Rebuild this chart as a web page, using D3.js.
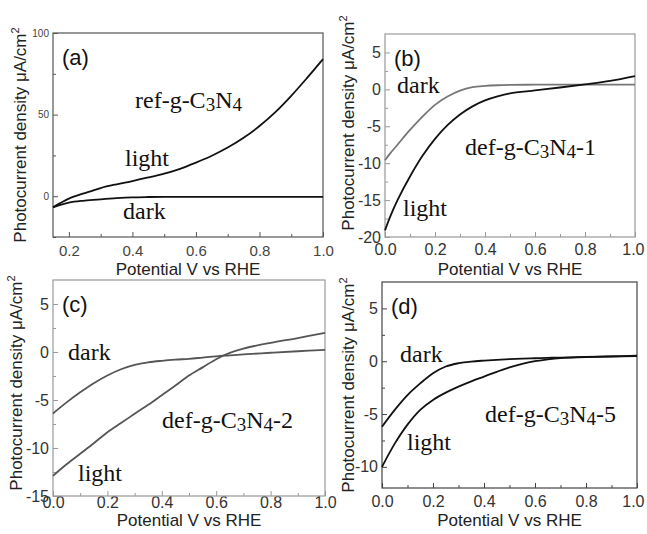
<!DOCTYPE html>
<html>
<head>
<meta charset="utf-8">
<script src="https://cdn.jsdelivr.net/npm/d3@7"></script>
<style>
  body { margin: 0; background: #fff; }
  svg { display: block; }
</style>
</head>
<body>
<svg width="647" height="534"></svg>
<script>
// values: potential (V vs RHE) and current density (uA/cm2)

// (a) ref-g-C3N4
var potentialA = [0.15, 0.2, 0.25, 0.3, 0.35, 0.4, 0.45, 0.5, 0.55, 0.6, 0.65, 0.7, 0.75, 0.8, 0.85, 0.9, 0.95, 1.0];
var darkA = [-6.8, -3.9, -2.7, -1.9, -1.2, -0.7, -0.5, -0.4, -0.4, -0.4, -0.4, -0.4, -0.4, -0.4, -0.4, -0.4, -0.4, -0.4];
var lightA = [-6.8, -1.5, 1.9, 5, 7.3, 9.3, 11.5, 13.9, 16.8, 20.6, 24.8, 29.8, 35.8, 43, 51.5, 61.5, 72.5, 84];

// (b) def-g-C3N4-1
var potentialB = [0, 0.02, 0.05, 0.1, 0.15, 0.2, 0.25, 0.3, 0.35, 0.4, 0.45, 0.5, 0.6, 0.7, 0.8, 0.9, 1.0];
var darkB = [-9.6, -8.7, -7.5, -5.5, -3.7, -2.1, -0.97, -0.16, 0.3, 0.47, 0.56, 0.6, 0.63, 0.64, 0.65, 0.65, 0.65];
var lightB = [-19.1, -17.3, -15, -11.8, -9.0, -6.7, -4.85, -3.4, -2.3, -1.5, -0.95, -0.55, -0.15, 0.25, 0.68, 1.15, 1.8];

// (c) def-g-C3N4-2
var potentialC = [0, 0.05, 0.1, 0.15, 0.2, 0.25, 0.3, 0.35, 0.4, 0.45, 0.5, 0.55, 0.6, 0.65, 0.7, 0.8, 0.9, 1.0];
var darkC = [-6.4, -5.25, -4.2, -3.25, -2.45, -1.8, -1.35, -1.08, -0.92, -0.8, -0.71, -0.58, -0.45, -0.35, -0.25, -0.08, 0.08, 0.23];
var lightC = [-12.9, -11.7, -10.6, -9.5, -8.35, -7.4, -6.44, -5.5, -4.5, -3.5, -2.45, -1.6, -0.75, -0.1, 0.35, 0.95, 1.45, 2.0];

// (d) def-g-C3N4-5
var potentialD = [0, 0.05, 0.1, 0.15, 0.2, 0.25, 0.3, 0.35, 0.4, 0.45, 0.5, 0.55, 0.6, 0.65, 0.7, 0.8, 0.9, 1.0];
var darkD = [-6.2, -4.6, -3.2, -2.1, -1.14, -0.5, -0.19, -0.03, 0.06, 0.13, 0.19, 0.24, 0.28, 0.32, 0.35, 0.41, 0.45, 0.48];
var lightD = [-10, -7.8, -6.0, -4.6, -3.66, -2.97, -2.4, -1.9, -1.45, -1.0, -0.58, -0.25, 0.0, 0.18, 0.3, 0.38, 0.46, 0.54];

// tick values
var xTicksA = [0.2, 0.4, 0.6, 0.8, 1.0];
var xMinorA = [0.3, 0.5, 0.7, 0.9];
var xTicks = [0, 0.2, 0.4, 0.6, 0.8, 1.0];
var xMinor = [0.1, 0.3, 0.5, 0.7, 0.9];
var yTicksA = [0, 50, 100];
var yMinorA = [-25, 25, 75];
var yTicksB = [-20, -15, -10, -5, 0, 5];
var yTicksC = [-15, -10, -5, 0, 5];
var yTicksD = [-10, -5, 0, 5];

var xTitle = "Potential V vs RHE";
var yTitle = "Photocurrent density \u03bcA/cm";

var svg = d3.select("svg");
var svgWidth = +svg.attr("width");

// one entry per panel: frame box, domains and styling
var panels = [
  { tag: "(a)", box: [53, 33, 323, 237], xDomain: [0.15, 1], yDomain: [-25, 100],
    potential: potentialA, dark: darkA, light: lightA,
    xTicks: xTicksA, xMinor: xMinorA, yTicks: yTicksA, yMinor: yMinorA,
    frame: "#555", darkColor: "#111", lightColor: "#111", tickColor: "#444",
    xFont: 15, yFont: 10, xLabelOff: 19, xTitleY: 275, yTitleX: 26, yTitleY: 135,
    notes: [{ text: "ref-g-C", sub1: "3", mid: "N", sub2: "4", tail: "", x: 135, y: 108 },
            { text: "light", x: 125, y: 166 },
            { text: "dark", x: 123, y: 219 }] },
  { tag: "(b)", box: [385, 34, 635, 237], xDomain: [0, 1], yDomain: [-20, 7.5],
    potential: potentialB, dark: darkB, light: lightB,
    xTicks: xTicks, xMinor: xMinor, yTicks: yTicksB, yMinor: [-17.5, -12.5, -7.5, -2.5, 2.5],
    frame: "#999", darkColor: "#777", lightColor: "#111", tickColor: "#333",
    xFont: 16, yFont: 16, xLabelOff: 18, xTitleY: 275, yTitleX: 354, yTitleY: 123,
    notes: [{ text: "dark", x: 397, y: 93 },
            { text: "def-g-C", sub1: "3", mid: "N", sub2: "4", tail: "-1", x: 465, y: 155 },
            { text: "light", x: 403, y: 216 }] },
  { tag: "(c)", box: [53, 280, 325, 496], xDomain: [0, 1], yDomain: [-15, 7.5],
    potential: potentialC, dark: darkC, light: lightC,
    xTicks: xTicks, xMinor: xMinor, yTicks: yTicksC, yMinor: [-12.5, -7.5, -2.5, 2.5],
    frame: "#999", darkColor: "#555", lightColor: "#555", tickColor: "#333",
    xFont: 16, yFont: 16, xLabelOff: 12, xTitleY: 526, yTitleX: 22, yTitleY: 383,
    notes: [{ text: "dark", x: 68, y: 360 },
            { text: "def-g-C", sub1: "3", mid: "N", sub2: "4", tail: "-2", x: 162, y: 428 },
            { text: "light", x: 78, y: 481 }] },
  { tag: "(d)", box: [382, 282, 637, 488], xDomain: [0, 1], yDomain: [-12, 7.5],
    potential: potentialD, dark: darkD, light: lightD,
    xTicks: xTicks, xMinor: xMinor, yTicks: yTicksD, yMinor: [-7.5, -2.5, 2.5],
    frame: "#444", darkColor: "#111", lightColor: "#111", tickColor: "#333",
    xFont: 16, yFont: 16, xLabelOff: 19, xTitleY: 526, yTitleX: 354, yTitleY: 385,
    notes: [{ text: "dark", x: 400, y: 362 },
            { text: "def-g-C", sub1: "3", mid: "N", sub2: "4", tail: "-5", x: 485, y: 422 },
            { text: "light", x: 407, y: 450 }] }
];

panels.forEach(function(p) {
  var left = p.box[0], top = p.box[1], right = p.box[2], bottom = p.box[3];
  var x = d3.scaleLinear().domain(p.xDomain).range([left, right]);
  var y = d3.scaleLinear().domain(p.yDomain).range([bottom, top]);
  var g = svg.append("g");

  // x axis: major ticks pointing inward, labels below
  var xAxis = g.append("g")
    .attr("transform", "translate(0," + bottom + ")")
    .call(d3.axisBottom(x).tickValues(p.xTicks).tickFormat(d3.format(".1f"))
      .tickSizeInner(-5).tickSizeOuter(0));
  xAxis.select(".domain").remove();
  xAxis.selectAll("line").attr("stroke", p.frame);
  xAxis.selectAll("text")
    .attr("y", p.xLabelOff).attr("dy", 0)
    .attr("font-family", "Arial, 'Liberation Sans', sans-serif")
    .attr("font-size", p.xFont).attr("fill", p.tickColor);
  // keep the last label inside the page
  xAxis.selectAll("text").each(function(d) {
    var w = this.getComputedTextLength();
    var over = x(d) + w / 2 - (svgWidth - 3);
    if (over > 0) d3.select(this).attr("x", -over);
  });

  var xMin = g.append("g")
    .attr("transform", "translate(0," + bottom + ")")
    .call(d3.axisBottom(x).tickValues(p.xMinor).tickFormat("").tickSizeInner(-3).tickSizeOuter(0));
  xMin.select(".domain").remove();
  xMin.selectAll("line").attr("stroke", p.frame);

  // y axis
  var yAxis = g.append("g")
    .attr("transform", "translate(" + left + ",0)")
    .call(d3.axisLeft(y).tickValues(p.yTicks).tickFormat(function(d) { return String(d); })
      .tickSizeInner(-5).tickSizeOuter(0).tickPadding(4));
  yAxis.select(".domain").remove();
  yAxis.selectAll("line").attr("stroke", p.frame);
  yAxis.selectAll("text")
    .attr("font-family", "Arial, 'Liberation Sans', sans-serif")
    .attr("font-size", p.yFont).attr("fill", p.tickColor);

  var yMin = g.append("g")
    .attr("transform", "translate(" + left + ",0)")
    .call(d3.axisLeft(y).tickValues(p.yMinor).tickFormat("").tickSizeInner(-3).tickSizeOuter(0));
  yMin.select(".domain").remove();
  yMin.selectAll("line").attr("stroke", p.frame);

  // frame
  g.append("rect")
    .attr("x", left).attr("y", top)
    .attr("width", right - left).attr("height", bottom - top)
    .attr("fill", "none").attr("stroke", p.frame).attr("stroke-width", 1.2);

  // curves
  var line = d3.line()
    .x(function(d) { return x(d[0]); })
    .y(function(d) { return y(d[1]); })
    .curve(d3.curveCatmullRom.alpha(0.5));

  g.append("path")
    .datum(d3.zip(p.potential, p.dark))
    .attr("d", line)
    .attr("fill", "none").attr("stroke", p.darkColor).attr("stroke-width", 1.8);

  g.append("path")
    .datum(d3.zip(p.potential, p.light))
    .attr("d", line)
    .attr("fill", "none").attr("stroke", p.lightColor).attr("stroke-width", 1.8);

  // panel tag
  g.append("text")
    .attr("x", left + 9).attr("y", top + 32)
    .attr("font-family", "Arial, 'Liberation Sans', sans-serif")
    .attr("font-size", 22).attr("fill", "#111")
    .text(p.tag);

  // notes in serif
  p.notes.forEach(function(n) {
    var t = g.append("text")
      .attr("x", n.x).attr("y", n.y)
      .attr("font-family", "'Liberation Serif', 'Times New Roman', serif")
      .attr("font-size", 24).attr("fill", "#111");
    t.append("tspan").text(n.text);
    if (n.sub1) {
      t.append("tspan").attr("font-size", 19).attr("dy", 3).text(n.sub1);
      t.append("tspan").attr("dy", -3).text(n.mid);
      t.append("tspan").attr("font-size", 19).attr("dy", 3).text(n.sub2);
      t.append("tspan").attr("dy", -3).text(n.tail);
    }
  });

  // axis titles
  g.append("text")
    .attr("x", (left + right) / 2).attr("y", p.xTitleY)
    .attr("text-anchor", "middle")
    .attr("font-family", "Arial, 'Liberation Sans', sans-serif")
    .attr("font-size", 17).attr("fill", "#222")
    .text(xTitle);

  var yt = g.append("text")
    .attr("transform", "translate(" + p.yTitleX + "," + p.yTitleY + ") rotate(-90)")
    .attr("text-anchor", "middle")
    .attr("font-family", "Arial, 'Liberation Sans', sans-serif")
    .attr("font-size", 17).attr("fill", "#222");
  yt.append("tspan").text(yTitle);
  yt.append("tspan").attr("font-size", 11).attr("dy", -7).text("2");
});
</script>
</body>
</html>
